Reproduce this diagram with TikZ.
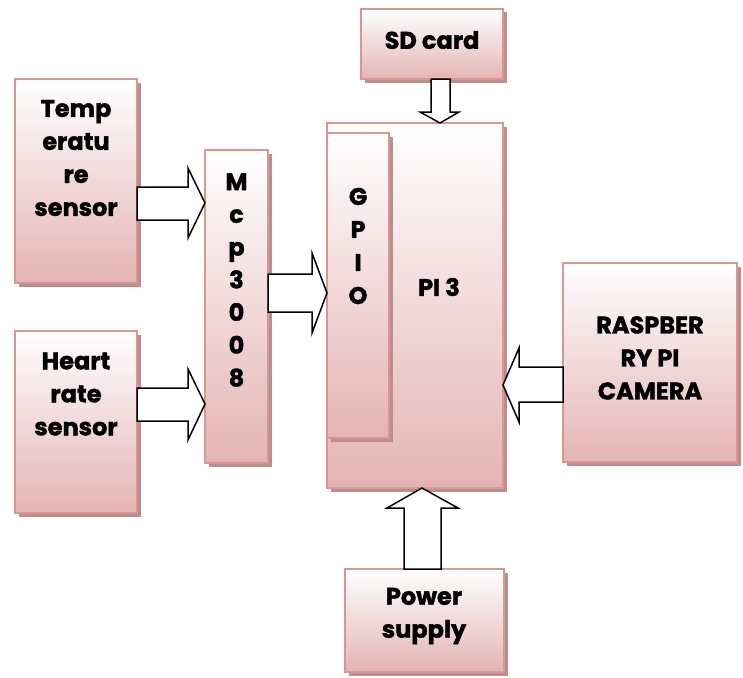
\documentclass[tikz,border=0pt]{standalone}
\usepackage{fontspec}
\setmainfont{Poppins}[BoldFeatures={FakeBold=1.6}]
\usetikzlibrary{calc,shadows}
\definecolor{bordc}{HTML}{D99694}
\definecolor{fillbot}{HTML}{E4B4B3}
\definecolor{shadc}{HTML}{B88E8E}
\tikzset{
 blk/.style={draw=bordc, line width=1.6pt, top color=white, bottom color=fillbot,
   anchor=north west, inner sep=0pt, outer sep=0pt,
   drop shadow={shadow xshift=3.5pt, shadow yshift=-3.5pt, fill=shadc, opacity=1}},
 lbl/.style={font=\bfseries\fontsize{24}{33}\selectfont, align=center, inner sep=0pt},
 blockarr/.style={draw=black, fill=white, line width=1.5pt, line join=miter}
}
% right-pointing block arrow: from #1.east to #2.west; y: head top #3, shaft top #4, tip #5, shaft bottom #6, head bottom #7; head length #8
\newcommand\blkR[8]{\draw[blockarr] let \p1=(#1.east), \p2=(#2.west) in
 (\x1,-#4pt) -- (\x2-#8pt,-#4pt) -- (\x2-#8pt,-#3pt) -- (\x2,-#5pt) -- (\x2-#8pt,-#7pt) -- (\x2-#8pt,-#6pt) -- (\x1,-#6pt) -- cycle;}
\newcommand\blkL[8]{\draw[blockarr] let \p1=(#1.west), \p2=(#2.east) in
 (\x1,-#4pt) -- (\x2+#8pt,-#4pt) -- (\x2+#8pt,-#3pt) -- (\x2,-#5pt) -- (\x2+#8pt,-#7pt) -- (\x2+#8pt,-#6pt) -- (\x1,-#6pt) -- cycle;}
% vertical: x: head left #3, shaft left #4, tip #5, shaft right #6, head right #7; head length #8
\newcommand\blkD[8]{\draw[blockarr] let \p1=(#1.south), \p2=(#2.north) in
 (#4pt,\y1) -- (#4pt,\y2+#8pt) -- (#3pt,\y2+#8pt) -- (#5pt,\y2) -- (#7pt,\y2+#8pt) -- (#6pt,\y2+#8pt) -- (#6pt,\y1) -- cycle;}
\newcommand\blkU[8]{\draw[blockarr] let \p1=(#1.north), \p2=(#2.south) in
 (#4pt,\y1) -- (#4pt,\y2-#8pt) -- (#3pt,\y2-#8pt) -- (#5pt,\y2) -- (#7pt,\y2-#8pt) -- (#6pt,\y2-#8pt) -- (#6pt,\y1) -- cycle;}
\begin{document}
\begin{tikzpicture}[x=1pt,y=-1pt]
\useasboundingbox (0,0) rectangle (743,677);
% boxes
\node[blk, minimum width=122pt, minimum height=204pt] (temp) at (15,79) {};
\node[blk, minimum width=122pt, minimum height=182pt] (heart) at (15,331) {};
\node[blk, minimum width=63pt, minimum height=313pt] (mcp) at (205,150) {};
\node[blk, minimum width=142pt, minimum height=70pt] (sd) at (361,9) {};
\node[blk, minimum width=176pt, minimum height=365pt] (pi) at (327,123) {};
\node[blk, minimum width=62pt, minimum height=305pt] (gpio) at (327,133) {};
\node[blk, minimum width=174pt, minimum height=199pt] (cam) at (563,263) {};
\node[blk, minimum width=159pt, minimum height=103pt] (power) at (345,569) {};
% labels
\node[lbl] (tempT) at (76,158) {Temp\\eratu\\re\\sensor};
\node[lbl] (heartT) at (76,394) {Heart\\rate\\sensor};
\node[lbl, font=\bfseries\fontsize{24}{32.7}\selectfont] (mcpT) at (236.5,280) {M\\c\\p\\3\\0\\0\\8};
\node[lbl] (gpioT) at (358,246) {G\\P\\I\\O};
\node[lbl] (piT) at (439,287) {PI 3};
\node[lbl] (sdT) at (432,40) {SD card};
\node[lbl] (camT) at (650,358) {RASPBER\\RY PI\\CAMERA};
\node[lbl] (powT) at (424,616) {Power\\supply};
% arrows
\blkR{temp}{mcp}{168}{187}{203}{220}{238}{17}
\blkR{heart}{mcp}{369}{388}{404}{421}{440}{17}
\blkR{mcp}{gpio}{253}{274}{293}{312}{333}{15}
\blkL{cam}{pi}{348}{367}{385}{402}{422}{16}
\blkD{sd}{pi}{420}{431}{440}{450}{459}{11}
\blkU{power}{pi}{387}{404}{422}{441}{458}{20}
\end{tikzpicture}
\end{document}
